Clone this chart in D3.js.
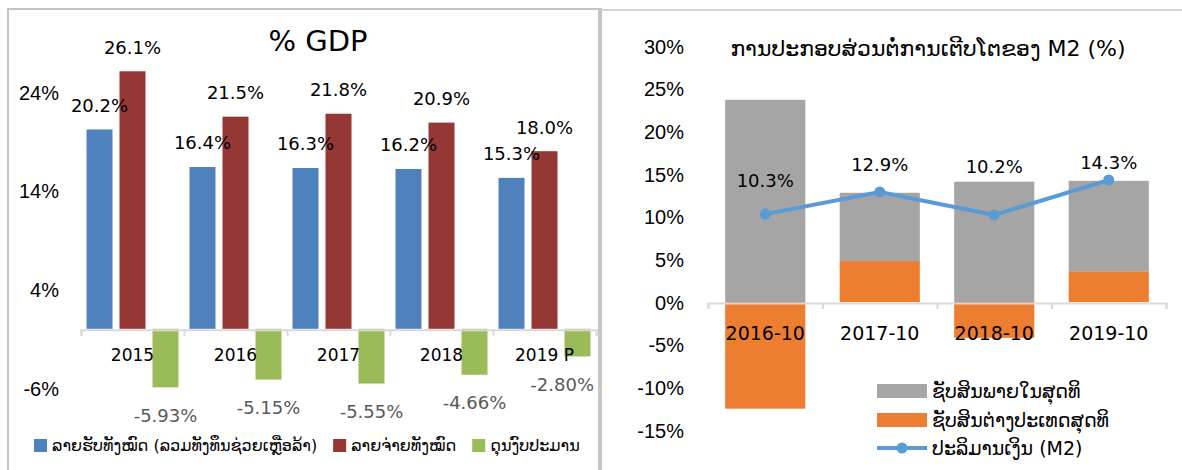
<!DOCTYPE html>
<html>
<head>
<meta charset="utf-8">
<script src="https://cdn.jsdelivr.net/npm/d3@7"></script>
<style>
  body { margin: 0; background: #fff; }
  svg { display: block; font-family: "DejaVu Sans", "Noto Sans", sans-serif; }
</style>
</head>
<body>
<svg id="chart" width="1182" height="470"></svg>
<script>
// data - left chart (% GDP)
var gdpYears = ["2015", "2016", "2017", "2018", "2019 P"];
var revenue = [20.2, 16.4, 16.3, 16.2, 15.3];
var expenditure = [26.1, 21.5, 21.8, 20.9, 18.0];
var balance = [-5.93, -5.15, -5.55, -4.66, -2.80];
var gdpTicks = [-6, 4, 14, 24];
var gdpSeries = ["ລາຍຮັບທັງໝົດ (ລວມທັງທຶນຊ່ວຍເຫຼືອລ້າ)", "ລາຍຈ່າຍທັງໝົດ", "ດຸນງົບປະມານ"];

// data - right chart (M2 contributions)
var m2Periods = ["2016-10", "2017-10", "2018-10", "2019-10"];
var netDomestic = [23.7, 8.0, 14.1, 10.6];
var netForeign = [-12.5, 4.8, -4.2, 3.6];
var m2Growth = [10.3, 12.9, 10.2, 14.3];
var m2Ticks = [-15, -10, -5, 0, 5, 10, 15, 20, 25, 30];
var m2Series = ["ຊັບສິນພາຍໃນສຸດທິ", "ຊັບສິນຕ່າງປະເທດສຸດທິ", "ປະລິມານເງິນ (M2)"];

// label nudges for the line labels (px above the point)
var lineLabelLift = [34, 27, 48, 17];

var svg = d3.select("#chart");

// panel frames
svg.append("line").attr("x1", 8).attr("x2", 598).attr("y1", 9).attr("y2", 9)
    .attr("stroke", "#c3c3c3").attr("stroke-width", 2);
svg.append("line").attr("x1", 8).attr("x2", 8).attr("y1", 8).attr("y2", 470)
    .attr("stroke", "#c3c3c3").attr("stroke-width", 2);
svg.append("rect").attr("x", 598).attr("y", 8).attr("width", 4).attr("height", 462)
    .attr("fill", "#c6c6c6");
svg.append("line").attr("x1", 602).attr("x2", 1182).attr("y1", 10).attr("y2", 10)
    .attr("stroke", "#d4d4d4").attr("stroke-width", 2);

// ---------- left chart ----------
var colorsL = ["#4f81bd", "#953735", "#9bbb59"];
var left = svg.append("g");

var xL = d3.scaleBand().domain(gdpYears).range([81, 596]);
var xInner = d3.scaleBand().domain([0, 1, 2]).range([0, xL.bandwidth()])
    .paddingInner(0.212).paddingOuter(0.167);
var yL = d3.scaleLinear().domain([-6, 24]).range([388, 92]);

left.append("text").attr("x", 318).attr("y", 41)
    .attr("text-anchor", "middle").attr("dominant-baseline", "central")
    .style("font-size", "29px").text("% GDP");

var yAxisL = left.append("g").attr("transform", "translate(59,0)")
    .call(d3.axisLeft(yL).tickValues(gdpTicks).tickSize(0).tickPadding(0)
        .tickFormat(function(d) { return d + "%"; }));
yAxisL.select(".domain").remove();
yAxisL.selectAll("text").style("font-size", "20px").attr("fill", "#000")
    .attr("dy", "0.35em");

var seriesL = [revenue, expenditure, balance];
seriesL.forEach(function(vals, s) {
    left.selectAll(".bar" + s).data(vals).enter().append("rect")
        .attr("x", function(d, i) { return xL(gdpYears[i]) + xInner(s); })
        .attr("width", xInner.bandwidth())
        .attr("y", function(d) { return yL(Math.max(0, d)); })
        .attr("height", function(d) { return Math.abs(yL(d) - yL(0)); })
        .attr("fill", colorsL[s]);
});

// x axis with category dividers
var idxL = d3.scaleLinear().domain([0, gdpYears.length]).range(xL.range());
var xAxisL = left.append("g").attr("transform", "translate(0," + (yL(0) + 1) + ")")
    .call(d3.axisBottom(idxL).tickValues(d3.range(gdpYears.length + 1))
        .tickFormat("").tickSize(6).tickSizeOuter(6));
xAxisL.selectAll("path, line").attr("stroke", "#d9d9d9").attr("stroke-width", 2);

left.selectAll(".xlab").data(gdpYears).enter().append("text")
    .attr("x", function(d) { return xL(d) + xL.bandwidth() / 2; })
    .attr("y", 355).attr("text-anchor", "middle").attr("dominant-baseline", "central")
    .style("font-size", "17px").text(function(d) { return d; });

// value labels
[revenue, expenditure].forEach(function(vals, s) {
    left.selectAll(".vl" + s).data(vals).enter().append("text")
        .attr("x", function(d, i) { return xL(gdpYears[i]) + xInner(s) + xInner.bandwidth() / 2; })
        .attr("y", function(d) { return yL(d) - 24; })
        .attr("text-anchor", "middle").attr("dominant-baseline", "central")
        .style("font-size", "18px").text(function(d) { return d.toFixed(1) + "%"; });
});
left.selectAll(".vl2").data(balance).enter().append("text")
    .attr("y", function(d) { return yL(d) + 28; })
    .attr("text-anchor", "middle").attr("dominant-baseline", "central")
    .attr("fill", "#595959")
    .style("font-size", "18px").text(function(d) { return d.toFixed(2) + "%"; })
    .attr("x", function(d, i) {
        var cx = xL(gdpYears[i]) + xInner(2) + xInner.bandwidth() / 2;
        var half = this.getComputedTextLength() / 2;
        return Math.min(cx, 594 - half);
    });

// legend
var legL = left.append("g").attr("transform", "translate(34,445)");
var lx = 0;
gdpSeries.forEach(function(name, s) {
    legL.append("rect").attr("x", lx).attr("y", -6).attr("width", 13).attr("height", 13)
        .attr("fill", colorsL[s]);
    var t = legL.append("text").attr("x", lx + 18).attr("y", 0)
        .attr("dominant-baseline", "central").style("font-size", "16px").text(name);
    lx += 18 + t.node().getComputedTextLength() + 16;
});

// ---------- right chart ----------
var right = svg.append("g");
var xR = d3.scaleBand().domain(m2Periods).range([708, 1166]);
var yR = d3.scaleLinear().domain([-15, 30]).range([430, 46]);
var barW = xR.bandwidth() * 0.7;

right.append("text").attr("x", 928).attr("y", 48)
    .attr("text-anchor", "middle").attr("dominant-baseline", "central")
    .style("font-size", "22px").text("ການປະກອບສ່ວນຕໍ່ການເຕີບໂຕຂອງ M2 (%)");

var yAxisR = right.append("g").attr("transform", "translate(684,0)")
    .call(d3.axisLeft(yR).tickValues(m2Ticks).tickSize(0).tickPadding(0)
        .tickFormat(function(d) { return d + "%"; }));
yAxisR.select(".domain").remove();
yAxisR.selectAll("text").style("font-size", "20px").attr("fill", "#000")
    .attr("dy", "0.35em");

var rows = m2Periods.map(function(p, i) {
    return { period: p, foreign: netForeign[i], domestic: netDomestic[i] };
});
var stack = d3.stack().keys(["foreign", "domestic"]).offset(d3.stackOffsetDiverging);
var colorsR = { domestic: "#a5a5a5", foreign: "#ed7d31" };

right.selectAll(".layer").data(stack(rows)).enter().append("g")
    .attr("fill", function(d) { return colorsR[d.key]; })
    .selectAll("rect").data(function(d) { return d; }).enter().append("rect")
    .attr("x", function(d) { return xR(d.data.period) + (xR.bandwidth() - barW) / 2; })
    .attr("width", barW)
    .attr("y", function(d) { return yR(d[1]); })
    .attr("height", function(d) { return yR(d[0]) - yR(d[1]); });

var idxR = d3.scaleLinear().domain([0, m2Periods.length]).range(xR.range());
var xAxisR = right.append("g").attr("transform", "translate(0," + (yR(0) + 1) + ")")
    .call(d3.axisBottom(idxR).tickValues(d3.range(m2Periods.length + 1))
        .tickFormat("").tickSize(6).tickSizeOuter(6));
xAxisR.selectAll("path, line").attr("stroke", "#d9d9d9").attr("stroke-width", 2);

right.selectAll(".xlab").data(m2Periods).enter().append("text")
    .attr("x", function(d) { return xR(d) + xR.bandwidth() / 2; })
    .attr("y", 333).attr("text-anchor", "middle").attr("dominant-baseline", "central")
    .style("font-size", "19px").text(function(d) { return d; });

var line = d3.line()
    .x(function(d, i) { return xR(m2Periods[i]) + xR.bandwidth() / 2; })
    .y(function(d) { return yR(d); });
right.append("path").datum(m2Growth).attr("d", line)
    .attr("fill", "none").attr("stroke", "#5b9bd5").attr("stroke-width", 4)
    .attr("stroke-linejoin", "round");
right.selectAll(".pt").data(m2Growth).enter().append("circle")
    .attr("cx", function(d, i) { return xR(m2Periods[i]) + xR.bandwidth() / 2; })
    .attr("cy", function(d) { return yR(d); })
    .attr("r", 5.5).attr("fill", "#5b9bd5");
right.selectAll(".ptl").data(m2Growth).enter().append("text")
    .attr("x", function(d, i) { return xR(m2Periods[i]) + xR.bandwidth() / 2; })
    .attr("y", function(d, i) { return yR(d) - lineLabelLift[i]; })
    .attr("text-anchor", "middle").attr("dominant-baseline", "central")
    .style("font-size", "18px").text(function(d) { return d.toFixed(1) + "%"; });

// legend
var legR = right.append("g").attr("transform", "translate(877,0)");
[["domestic", 391], ["foreign", 420]].forEach(function(it, k) {
    legR.append("rect").attr("x", 0).attr("y", it[1] - 7).attr("width", 50).attr("height", 14)
        .attr("fill", colorsR[it[0]]);
    legR.append("text").attr("x", 55).attr("y", it[1]).attr("dominant-baseline", "central")
        .style("font-size", "19px").text(m2Series[k]);
});
legR.append("line").attr("x1", 0).attr("x2", 50).attr("y1", 448).attr("y2", 448)
    .attr("stroke", "#5b9bd5").attr("stroke-width", 4);
legR.append("circle").attr("cx", 25).attr("cy", 448).attr("r", 5.5).attr("fill", "#5b9bd5");
legR.append("text").attr("x", 55).attr("y", 448).attr("dominant-baseline", "central")
    .style("font-size", "19px").text(m2Series[2]);
</script>
</body>
</html>
